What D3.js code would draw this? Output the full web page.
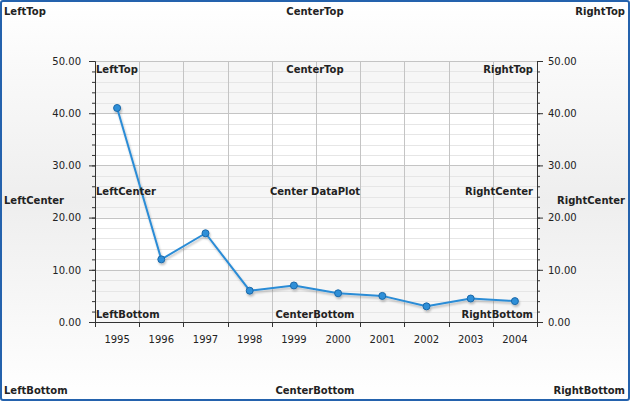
<!DOCTYPE html>
<html><head><meta charset="utf-8">
<script src="https://cdn.jsdelivr.net/npm/d3@7"></script>
<style>
html,body{margin:0;padding:0;background:#fff;}
svg{display:block;font-family:"DejaVu Sans",Verdana,sans-serif;}
</style></head>
<body>
<svg id="chart" width="630" height="401"></svg>
<script>
const years = ["1995","1996","1997","1998","1999","2000","2001","2002","2003","2004"];
const values = [41, 12, 17, 6, 7, 5.5, 5, 3, 4.5, 4];
const yTicks = [0, 10, 20, 30, 40, 50];
const outerLabels = [
  {t:"LeftTop", h:"l", v:"t"}, {t:"CenterTop", h:"c", v:"t"}, {t:"RightTop", h:"r", v:"t"},
  {t:"LeftCenter", h:"l", v:"c"}, {t:"RightCenter", h:"r", v:"c"},
  {t:"LeftBottom", h:"l", v:"b"}, {t:"CenterBottom", h:"c", v:"b"}, {t:"RightBottom", h:"r", v:"b"}
];
const innerLabels = [
  {t:"LeftTop", h:"l", v:"t"}, {t:"CenterTop", h:"c", v:"t"}, {t:"RightTop", h:"r", v:"t"},
  {t:"LeftCenter", h:"l", v:"c"}, {t:"Center DataPlot", h:"c", v:"c"}, {t:"RightCenter", h:"r", v:"c"},
  {t:"LeftBottom", h:"l", v:"b"}, {t:"CenterBottom", h:"c", v:"b"}, {t:"RightBottom", h:"r", v:"b"}
];

(function(){
const W = 630, H = 401;
const svg = d3.select("#chart");
const defs = svg.append("defs");
const bg = defs.append("linearGradient").attr("id","bg").attr("x1",0).attr("y1",0).attr("x2",0).attr("y2",1);
bg.append("stop").attr("offset","0%").attr("stop-color","#ffffff");
bg.append("stop").attr("offset","50%").attr("stop-color","#eeeeee");
bg.append("stop").attr("offset","100%").attr("stop-color","#ffffff");
const sh = defs.append("filter").attr("id","shadow").attr("x","-10%").attr("y","-10%").attr("width","130%").attr("height","130%");
sh.append("feGaussianBlur").attr("in","SourceAlpha").attr("stdDeviation",1.2).attr("result","b");
sh.append("feOffset").attr("in","b").attr("dx",1).attr("dy",2).attr("result","o");
sh.append("feComponentTransfer").attr("in","o").attr("result","o2").append("feFuncA").attr("type","linear").attr("slope",0.25);
const mg = sh.append("feMerge");
mg.append("feMergeNode").attr("in","o2");
mg.append("feMergeNode").attr("in","SourceGraphic");

svg.append("rect").attr("x",1).attr("y",1).attr("width",W-2).attr("height",H-2)
  .attr("fill","url(#bg)").attr("stroke","#2462ad").attr("stroke-width",2).attr("rx",2);

const pL = 95, pR = 537, pT = 61, pB = 322;
const x = d3.scaleBand().domain(years).range([pL, pR]);
const y = d3.scaleLinear().domain([0, 50]).range([pB, pT]);

svg.append("rect").attr("x",pL).attr("y",pT).attr("width",pR-pL).attr("height",pB-pT).attr("fill","#ffffff");
const bands = [[0,10],[20,30],[40,50]];
svg.append("g").selectAll("rect").data(bands).join("rect")
  .attr("x",pL).attr("width",pR-pL)
  .attr("y",d=>y(d[1])).attr("height",d=>y(d[0])-y(d[1]))
  .attr("fill","#f6f6f6");

const minor = d3.range(0, 51, 2).filter(v => v % 10 !== 0);
svg.append("g").selectAll("line").data(minor).join("line")
  .attr("x1",pL).attr("x2",pR).attr("y1",d=>Math.round(y(d))+0.5).attr("y2",d=>Math.round(y(d))+0.5)
  .attr("stroke","#e6e6e6").attr("stroke-width",1);
svg.append("g").selectAll("line").data(yTicks).join("line")
  .attr("x1",pL).attr("x2",pR).attr("y1",d=>Math.round(y(d))+0.5).attr("y2",d=>Math.round(y(d))+0.5)
  .attr("stroke","#c4c4c4").attr("stroke-width",1);
svg.append("g").selectAll("line").data(years.slice(1)).join("line")
  .attr("x1",d=>Math.round(x(d))+0.5).attr("x2",d=>Math.round(x(d))+0.5).attr("y1",pT).attr("y2",pB)
  .attr("stroke","#c4c4c4").attr("stroke-width",1);

const yMinor = d3.range(0, 51, 2);
const yl = svg.append("g").attr("transform",`translate(${pL},0)`)
  .call(d3.axisLeft(y).tickValues(yMinor).tickFormat("").tickSize(3).tickSizeOuter(0));
const yl2 = svg.append("g").attr("transform",`translate(${pL},0)`)
  .call(d3.axisLeft(y).tickValues(yTicks).tickFormat(d3.format(".2f")).tickSize(6).tickPadding(8).tickSizeOuter(0));
const yr = svg.append("g").attr("transform",`translate(${pR},0)`)
  .call(d3.axisRight(y).tickValues(yMinor).tickFormat("").tickSize(3).tickSizeOuter(0));
const yr2 = svg.append("g").attr("transform",`translate(${pR},0)`)
  .call(d3.axisRight(y).tickValues(yTicks).tickFormat(d3.format(".2f")).tickSize(6).tickPadding(5).tickSizeOuter(0));
const xa = svg.append("g").attr("transform",`translate(0,${pB})`)
  .call(d3.axisBottom(x).tickSize(0).tickPadding(14));
svg.append("g").selectAll("line").data(years).join("line")
  .attr("x1",d=>Math.round(x(d))+0.5).attr("x2",d=>Math.round(x(d))+0.5)
  .attr("y1",pB).attr("y2",pB+5).attr("stroke","#333");
svg.append("line").attr("x1",pR+0.5).attr("x2",pR+0.5).attr("y1",pB).attr("y2",pB+5).attr("stroke","#333");
[yl,yl2,yr,yr2,xa].forEach(g=>{
  g.attr("font-size",null).attr("font-family",null);
  g.selectAll(".domain").attr("stroke","#333");
  g.selectAll(".tick line").attr("stroke","#333");
  g.selectAll("text").attr("font-family","DejaVu Sans, Verdana, sans-serif").attr("font-size","10px").attr("fill","#222");
});

const line = d3.line().x((d,i)=>x(years[i])+x.bandwidth()/2).y(d=>y(d));
const series = svg.append("g").attr("filter","url(#shadow)");
series.append("path").datum(values).attr("d",line).attr("fill","none")
  .attr("stroke","#2b8cd6").attr("stroke-width",2).attr("stroke-linejoin","round");
series.selectAll("circle").data(values).join("circle")
  .attr("cx",(d,i)=>x(years[i])+x.bandwidth()/2).attr("cy",d=>y(d)).attr("r",3.5)
  .attr("fill","#2f8fd8").attr("stroke","#1a68a8").attr("stroke-width",1);

function place(g, arr, box){
  g.selectAll("text").data(arr).join("text")
    .attr("font-size","10px").attr("font-weight","bold").attr("fill","#222")
    .attr("text-anchor",d=>d.h==="l"?"start":d.h==="c"?"middle":"end")
    .attr("x",d=>d.h==="l"?box.l:d.h==="c"?box.c:box.r)
    .attr("y",d=>d.v==="t"?box.t:d.v==="c"?box.m:box.b)
    .text(d=>d.t);
}
place(svg.append("g"), outerLabels, {l:4,c:315,r:625,t:15,m:204,b:394});
place(svg.append("g"), innerLabels, {l:96,c:315,r:533,t:73,m:195,b:318});
})();
</script>
</body></html>
